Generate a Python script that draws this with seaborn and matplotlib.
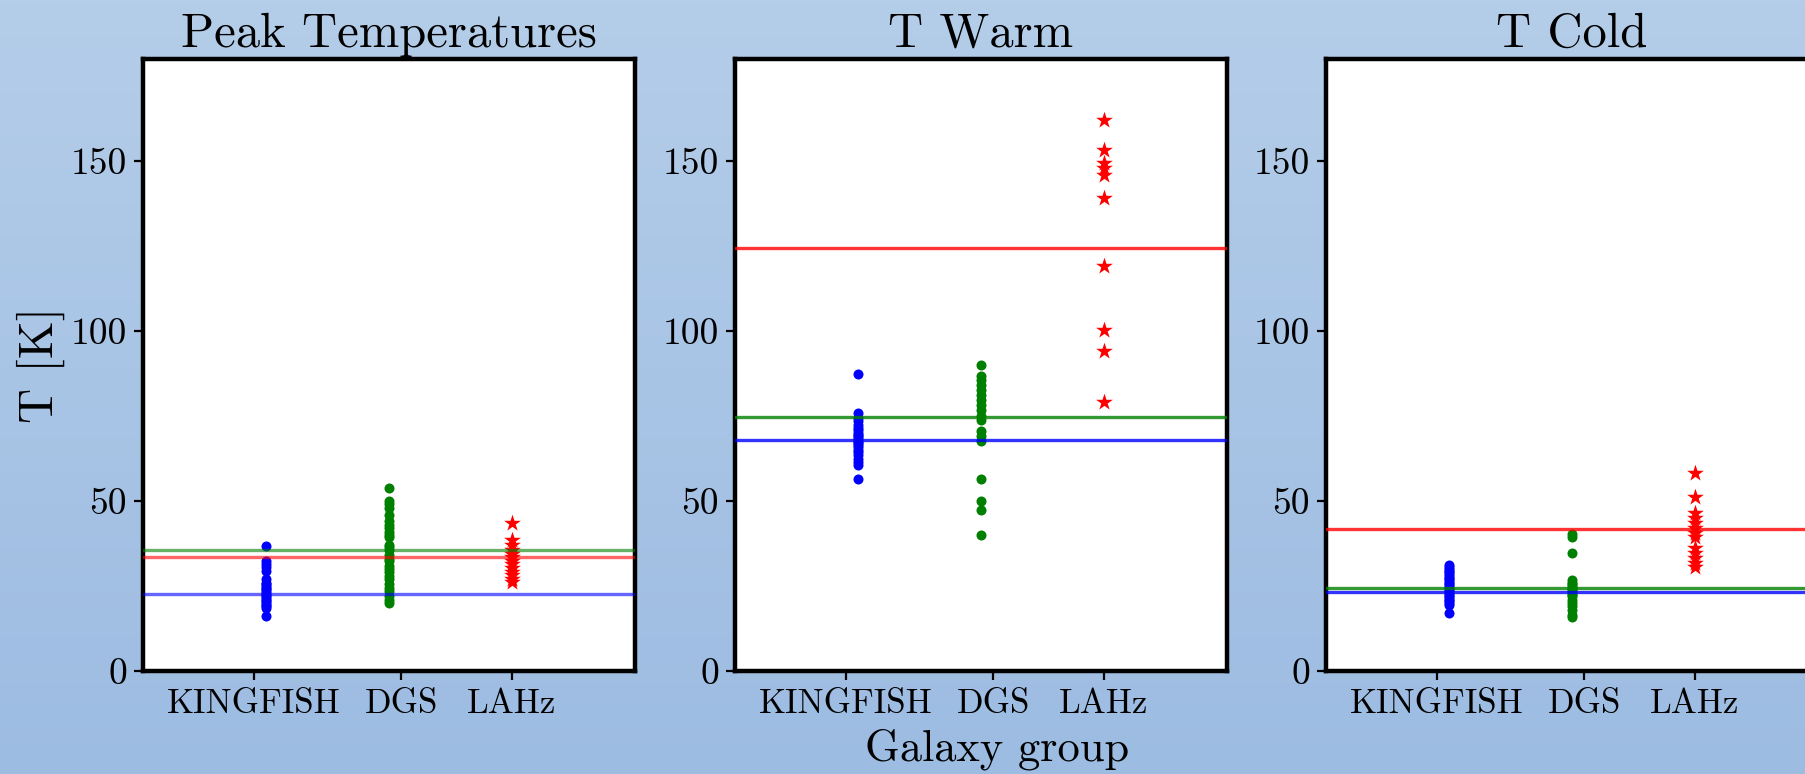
import numpy as np
import pandas as pd
import matplotlib
matplotlib.use("Agg")
import matplotlib.pyplot as plt
from matplotlib.colors import LinearSegmentedColormap
import seaborn as sns

# ---- data -------------------------------------------------------------
groups = ["KINGFISH", "DGS", "LAHz"]
panel_titles = ["Peak Temperatures", "T Warm", "T Cold"]

# Peak temperatures [K]
peak_kingfish = [36.8, 32.5, 31.5, 30.5, 29.5, 27.0, 26.0, 25.5, 25.0, 24.5, 24.0,
                 23.5, 23.0, 22.5, 22.0, 21.5, 21.0, 20.5, 20.0, 19.5, 19.0, 18.5, 16.3]
peak_dgs = [53.8, 50.0, 49.0, 47.9, 46.0, 44.0, 43.0, 42.0, 41.0, 40.0, 39.5, 37.0,
            36.5, 35.5, 34.0, 33.0, 32.5, 31.0, 30.0, 29.0, 28.0, 27.0, 25.5, 24.5,
            23.5, 22.0, 21.0, 20.0]
peak_lahz = [43.5, 38.4, 37.0, 35.5, 34.5, 33.5, 32.5, 31.5, 30.2, 29.0, 28.3, 27.0, 26.3]

# Warm component temperatures [K]
warm_kingfish = [87.3, 76.0, 74.5, 73.5, 72.5, 71.5, 71.0, 70.0, 69.5, 69.0, 68.5, 68.0,
                 67.5, 67.0, 66.5, 66.0, 65.0, 64.5, 63.5, 62.5, 61.5, 60.6, 56.4]
warm_dgs = [90.1, 86.8, 85.5, 84.2, 82.7, 81.2, 79.7, 78.3, 76.8, 74.9, 73.9, 70.5,
            69.0, 67.6, 56.5, 50.0, 47.3, 40.0]
warm_lahz = [162.2, 153.2, 149.3, 148.0, 146.0, 139.2, 119.2, 100.2, 94.0, 79.0]

# Cold component temperatures [K]
cold_kingfish = [31.2, 30.5, 30.0, 29.5, 29.0, 28.5, 28.0, 27.5, 27.0, 26.5, 26.0, 25.5,
                 25.0, 24.5, 24.0, 23.5, 23.0, 22.5, 22.0, 21.5, 21.0, 20.5, 20.0, 19.4, 17.0]
cold_dgs = [40.2, 39.3, 34.8, 26.8, 26.0, 25.5, 25.0, 24.5, 24.0, 23.5, 23.0, 22.5,
            22.0, 21.0, 20.0, 19.0, 18.0, 16.5, 16.0]
cold_lahz = [58.2, 51.1, 46.6, 45.0, 43.5, 42.0, 40.5, 39.5, 36.1, 34.7, 33.2, 31.8, 30.7]

# Group reference levels per panel (KINGFISH, DGS, LAHz)
peak_levels = [22.7, 35.6, 33.4]
warm_levels = [67.9, 74.6, 124.4]
cold_levels = [23.3, 24.5, 41.9]

y_ticks = [0, 50, 100, 150]
y_tick_labels = ["0", "50", "100", "150"]

# ---- style ------------------------------------------------------------
sns.set_theme(style="white")
plt.rcParams["font.family"] = ["cmr10", "DejaVu Serif"]
plt.rcParams["axes.formatter.use_mathtext"] = True
plt.rcParams["mathtext.fontset"] = "cm"

colors = {"KINGFISH": "blue", "DGS": "green", "LAHz": "red"}
markers = {"KINGFISH": "o", "DGS": "o", "LAHz": "*"}
sizes = {"KINGFISH": 52, "DGS": 52, "LAHz": 160}
point_x = {"KINGFISH": 1.0, "DGS": 2.0, "LAHz": 3.0}
tick_x = [0.9, 2.1, 3.0]
line_alpha = [0.6, 0.8, 0.8]

panels = [
    (peak_kingfish, peak_dgs, peak_lahz, peak_levels),
    (warm_kingfish, warm_dgs, warm_lahz, warm_levels),
    (cold_kingfish, cold_dgs, cold_lahz, cold_levels),
]

W, H = 1805, 774
fig = plt.figure(figsize=(W / 100, H / 100), dpi=100)

# soft vertical blue gradient behind everything
bg = fig.add_axes([0, 0, 1, 1], zorder=-10)
grad_cmap = LinearSegmentedColormap.from_list("bg", ["#B4CDE9", "#9DBCE2"])
bg.imshow(np.linspace(0, 1, 256).reshape(-1, 1), aspect="auto", cmap=grad_cmap,
          extent=[0, 1, 0, 1], origin="upper")
bg.set_axis_off()

ax_w, ax_h = 492 / W, 612 / H
ax_bottom = (H - 671) / H
lefts = [143 / W, 735 / W, 1326 / W]

for i, (kf, dgs, lahz, levels) in enumerate(panels):
    ax = fig.add_axes([lefts[i], ax_bottom, ax_w, ax_h])
    ax.set_facecolor("white")
    df = pd.DataFrame({
        "group": ["KINGFISH"] * len(kf) + ["DGS"] * len(dgs) + ["LAHz"] * len(lahz),
        "T": kf + dgs + lahz,
    })
    df["pos"] = df["group"].map(point_x)
    for g in groups:
        sub = df[df["group"] == g]
        sns.scatterplot(data=sub, x="pos", y="T", ax=ax, color=colors[g],
                        marker=markers[g], s=sizes[g], linewidth=0, legend=False,
                        zorder=3)
    for g, lvl in zip(groups, levels):
        ax.axhline(lvl, color=colors[g], alpha=line_alpha[i], lw=2.4, zorder=4)

    ax.set_xlim(0, 4)
    ax.set_ylim(0, 180)
    ax.set_xticks(tick_x)
    ax.set_xticklabels(groups, fontsize=25)
    ax.set_yticks(y_ticks)
    ax.set_yticklabels(y_tick_labels, fontsize=27)
    ax.tick_params(axis="both", direction="out", length=6.5, width=1.6,
                   color="black", labelcolor="black", bottom=True, left=True)
    ax.tick_params(axis="x", pad=6)
    ax.tick_params(axis="y", pad=5)
    for sp in ax.spines.values():
        sp.set_visible(True)
        sp.set_color("black")
        sp.set_linewidth(3.2)
    ax.set_xlabel("")
    ax.set_ylabel("")
    ax.set_title(panel_titles[i], fontsize=35, pad=8.6, color="black")

    if i == 0:
        ax.set_ylabel("T [K]", fontsize=35, color="black")
        ax.yaxis.set_label_coords(-0.159, 0.5)

# shared x-axis label under the middle panel
fig.text(996.7 / W, (H - 760) / H, "Galaxy group", fontsize=32, color="black",
         ha="center", va="baseline")

fig.savefig("out.png", dpi=100, facecolor="#A8C5E6")
